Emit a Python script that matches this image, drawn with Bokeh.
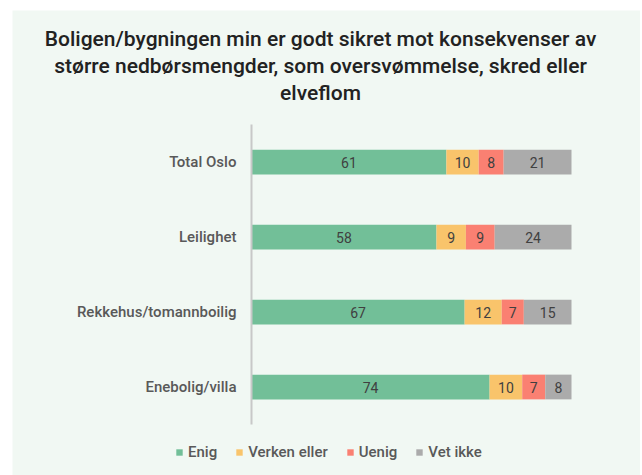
from bokeh.plotting import figure
from bokeh.models import ColumnDataSource, Range1d, Label, Legend, LegendItem
from bokeh.embed import file_html
from bokeh.resources import INLINE
from bokeh.core.properties import value
import numpy as np

# ---- data ----
categories = ["Total Oslo", "Leilighet", "Rekkehus/tomannboilig", "Enebolig/villa"]
series_names = ["Enig", "Verken eller", "Uenig", "Vet ikke"]
enig = [60.9, 57.8, 66.6, 74.4]
verken = [10.1, 9.2, 11.6, 10.2]
uenig = [7.8, 9.0, 6.9, 7.2]
vet_ikke = [21.2, 24.0, 14.9, 8.2]
title_text = ("Boligen/bygningen min er godt sikret mot konsekvenser av\n"
              "større nedbørsmengder, som oversvømmelse, skred eller\n"
              "elveflom")

colors = ["#72BF98", "#F9C46B", "#FA8072", "#ABABAB"]
BG = "#F1F8F3"
FONT = "Roboto"
FONT_MED = "Roboto Medium"

W, H = 628, 465
keys = ["enig", "verken", "uenig", "vet_ikke"]
pos = list(range(len(categories)))
src = ColumnDataSource(dict(pos=pos, cat=categories, enig=enig, verken=verken,
                            uenig=uenig, vet_ikke=vet_ikke))

# scales: 3.2 px per percent, 75 px per category row
x0 = -239 / 3.2
y_top = -151.5 / 75
p = figure(width=W, height=H,
           x_range=Range1d(x0, x0 + W / 3.2),
           y_range=Range1d(y_top + H / 75, y_top),
           x_axis_location=None, y_axis_location=None,
           output_backend="svg", toolbar_location=None,
           min_border=0)
p.margin = (10, 0, 0, 12)
p.background_fill_color = BG
p.border_fill_color = BG
p.outline_line_color = None
p.xgrid.visible = False
p.ygrid.visible = False

rs = p.hbar_stack(keys, y="pos", height=0.33, color=colors, line_color=None,
                  source=src)

# axis line
n = len(categories)
p.segment(x0=[0], y0=[-0.5], x1=[0], y1=[n - 0.5], line_color="#C8C8C8",
          line_width=2)

# category labels
p.text(x=0, y="pos", text="cat", source=src, x_offset=-15, text_align="right",
       text_baseline="middle", text_font=value(FONT_MED),
       text_font_size="15px", text_color="#595959")

# value labels
vals = np.array([enig, verken, uenig, vet_ikke])
lefts = np.vstack([np.zeros(n), np.cumsum(vals, axis=0)[:-1]])
mids = lefts + vals / 2
lx, ly, lt = [], [], []
for i in range(vals.shape[0]):
    for j in range(n):
        lx.append(mids[i, j])
        ly.append(pos[j])
        lt.append(str(int(round(vals[i, j]))))
lsrc = ColumnDataSource(dict(x=lx, y=ly, text=lt))
p.text(x="x", y="y", text="text", source=lsrc, text_align="center",
       text_baseline="middle", text_font=value(FONT), text_font_size="14px",
       text_color="#404040")

# title
title = Label(x=308, y=H - 16, x_units="screen", y_units="screen",
              text=title_text, text_align="center", text_baseline="top",
              text_font=FONT_MED, text_font_size="21px", text_color="#222222",
              text_line_height=1.14)
p.add_layout(title)

# legend
lg = Legend(items=[LegendItem(label=nm, renderers=[r])
                   for nm, r in zip(series_names, rs)],
            orientation="horizontal", location=(163, 14),
            glyph_width=8, glyph_height=8, label_standoff=5, spacing=18,
            padding=0, margin=0, border_line_color=None,
            background_fill_alpha=0, label_text_font=FONT_MED,
            label_text_font_size="15px", label_text_color="#595959")
p.add_layout(lg)

open("out.html", "w").write(file_html(p, INLINE))
